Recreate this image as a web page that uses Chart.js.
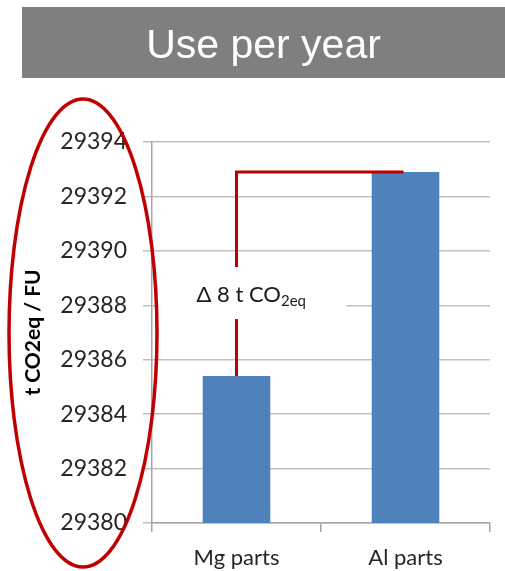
<!DOCTYPE html>
<html>
<head>
<meta charset="utf-8">
<script src="https://cdn.jsdelivr.net/npm/chart.js@4.4.1/dist/chart.umd.min.js"></script>
<style>
    html, body { margin: 0; padding: 0; background: #fff; }
</style>
</head>
<body>
<canvas id="myChart" width="505" height="571"></canvas>
<script>
const categories = ['Mg parts', 'Al parts'];
const useValues = [29385.4, 29392.9];
const yMin = 29380;
const yMax = 29394;
const yStep = 2;
const chartTitle = 'Use per year';
const yAxisTitle = 't CO2eq / FU';
const deltaText = 'Δ 8 t CO';
const deltaSub = '2eq';
const deltaLabelValue = 29388.45; // where the delta label sits on the y scale

const red = '#c00000';

const decorations = {
    id: 'decorations',
    beforeDraw(chart) {
        const c = chart.ctx;
        c.save();
        c.fillStyle = '#fff';
        c.fillRect(0, 0, chart.width, chart.height);
        // grey title bar
        c.fillStyle = '#7f7f7f';
        c.fillRect(22, 7, chart.width - 22, 71);
        c.fillStyle = '#fff';
        c.font = '41px "Liberation Sans", Arial, sans-serif';
        c.textAlign = 'center';
        c.textBaseline = 'alphabetic';
        c.fillText(chartTitle, (22 + chart.width) / 2, 58);
        c.restore();
    },
    afterDatasetsDraw(chart) {
        const c = chart.ctx;
        const x = chart.scales.x, y = chart.scales.y;
        const x0 = x.getPixelForValue(0), x1 = x.getPixelForValue(1);
        const yLow = y.getPixelForValue(useValues[0]);
        const yHigh = y.getPixelForValue(useValues[1]);
        const yLabel = y.getPixelForValue(deltaLabelValue);

        c.save();
        // bracket between the two bars
        c.strokeStyle = red;
        c.lineWidth = 3;
        c.beginPath();
        c.moveTo(x0, yLow);
        c.lineTo(x0, yHigh);
        c.lineTo(x1 - 2, yHigh);
        c.stroke();

        // white box behind the delta label
        c.fillStyle = '#fff';
        c.fillRect(chart.chartArea.left + 5, yLabel - 26, x0 - chart.chartArea.left + 105, 52);

        c.fillStyle = '#1a1a1a';
        c.textBaseline = 'alphabetic';
        c.textAlign = 'left';
        c.font = '22px Lato, sans-serif';
        const tx = x0 - 40;
        c.fillText(deltaText, tx, yLabel + 9);
        const w = c.measureText(deltaText).width;
        c.font = '15px Lato, sans-serif';
        c.fillText(deltaSub, tx + w, yLabel + 13);

        // y axis title
        c.translate(33, (chart.chartArea.top + chart.chartArea.bottom) / 2);
        c.rotate(-Math.PI / 2);
        c.textAlign = 'center';
        c.textBaseline = 'middle';
        c.font = 'bold 21px Lato, sans-serif';
        c.fillStyle = '#000';
        c.fillText(yAxisTitle, 0, 0);
        c.restore();
    },
    afterDraw(chart) {
        const c = chart.ctx;
        c.save();
        c.strokeStyle = red;
        c.lineWidth = 3.5;
        c.beginPath();
        c.ellipse(83, 333, 74, 234, 0, 0, Math.PI * 2);
        c.stroke();
        c.restore();
    }
};

const ctx = document.getElementById('myChart').getContext('2d');
const myChart = new Chart(ctx, {
    type: 'bar',
    data: {
        labels: categories,
        datasets: [{
            data: useValues,
            backgroundColor: '#4f81bd',
            borderWidth: 0,
            barPercentage: 0.4,
            categoryPercentage: 1
        }]
    },
    options: {
        responsive: false,
        animation: false,
        events: [],
        layout: { padding: { top: 142, right: 15, left: 0, bottom: 0 } },
        plugins: {
            legend: { display: false },
            tooltip: { enabled: false }
        },
        scales: {
            x: {
                grid: { drawOnChartArea: false, offset: true, tickLength: 9, color: '#a6a6a6', lineWidth: 1.5 },
                border: { color: '#a6a6a6', width: 1.5 },
                ticks: { color: '#262626', font: { family: 'Lato', size: 22 }, padding: 13 },
                afterFit(scale) { scale.height = 48; }
            },
            y: {
                min: yMin,
                max: yMax,
                grid: { color: '#bfbfbf', lineWidth: 1.5, tickLength: 9 },
                border: { color: '#a6a6a6', width: 1.5 },
                ticks: {
                    stepSize: yStep,
                    color: '#262626',
                    font: { family: 'Lato', size: 23 },
                    padding: 16,
                    callback: v => String(v)
                },
                afterFit(scale) { scale.width = 152; }
            }
        }
    },
    plugins: [decorations]
});
</script>
</body>
</html>
